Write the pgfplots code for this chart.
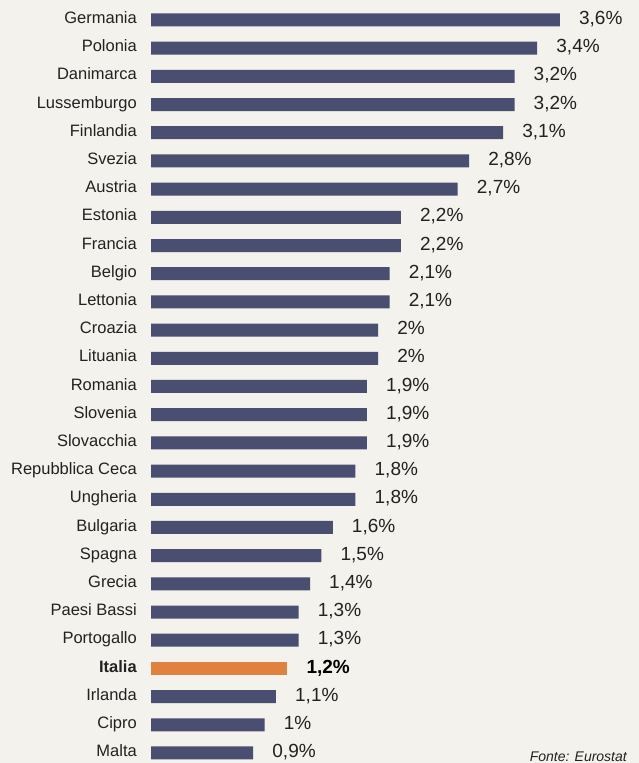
\documentclass[border=0pt]{standalone}
\usepackage{pgfplots}
\pgfplotsset{compat=1.18}
\usepackage{fontspec}
\setmainfont{Liberation Sans}
\definecolor{bg}{HTML}{F3F2EC}
\definecolor{barc}{HTML}{4A4F72}
\definecolor{ita}{HTML}{E0813F}
\definecolor{txt}{HTML}{222222}
\begin{document}
\begin{tikzpicture}
\fill[bg] (0,0) rectangle (639bp,763bp);
\path[use as bounding box] (0,0) rectangle (639bp,763bp);
\begin{axis}[
  at={(151bp,0bp)}, anchor=south west,
  scale only axis, width=488bp, height=763bp,
  xmin=0, xmax=4.296, ymin=-0.355, ymax=26.709,
  xbar, bar width=13bp, bar shift=0pt,
  clip=false,
  /pgf/number format/assume math mode=true,
  axis line style={draw=none}, major tick length=0pt,
  xtick=\empty, ytick={0,...,26},
  yticklabels={Malta,Cipro,Irlanda,\textbf{Italia},Portogallo,Paesi Bassi,Grecia,Spagna,Bulgaria,Ungheria,Repubblica Ceca,Slovacchia,Slovenia,Romania,Lituania,Croazia,Lettonia,Belgio,Francia,Estonia,Austria,Svezia,Finlandia,Lussemburgo,Danimarca,Polonia,Germania},
  yticklabel style={font=\fontsize{16.5bp}{18bp}\selectfont, text=txt, inner sep=0pt, xshift=-14bp, text height=1.37ex, text depth=0ex},
  point meta=x,
  nodes near coords={\pgfmathprintnumber[fixed,precision=1,use comma,assume math mode=true]{\pgfplotspointmeta}\%},
  nodes near coords style={anchor=west, inner sep=0pt, xshift=19bp, font=\fontsize{19bp}{21bp}\selectfont, text=txt, text height=1.37ex, text depth=0ex, yshift=-1bp},
]
\addplot[fill=barc, draw=none] coordinates {
(0.9,0) (1.0,1) (1.1,2) (1.3,4) (1.3,5) (1.4,6) (1.5,7) (1.6,8) (1.8,9) (1.8,10)
(1.9,11) (1.9,12) (1.9,13) (2.0,14) (2.0,15) (2.1,16) (2.1,17) (2.2,18) (2.2,19)
(2.7,20) (2.8,21) (3.1,22) (3.2,23) (3.2,24) (3.4,25) (3.6,26)
};
\addplot[fill=ita, draw=none, nodes near coords style={font=\bfseries\fontsize{19bp}{21bp}\selectfont, text=black}] coordinates {(1.2,3)};
\end{axis}
\node[anchor=base east, inner sep=0pt, font=\itshape\fontsize{14bp}{16bp}\selectfont, text=txt] at (627bp,2bp) {Fonte: Eurostat};
\end{tikzpicture}
\end{document}
